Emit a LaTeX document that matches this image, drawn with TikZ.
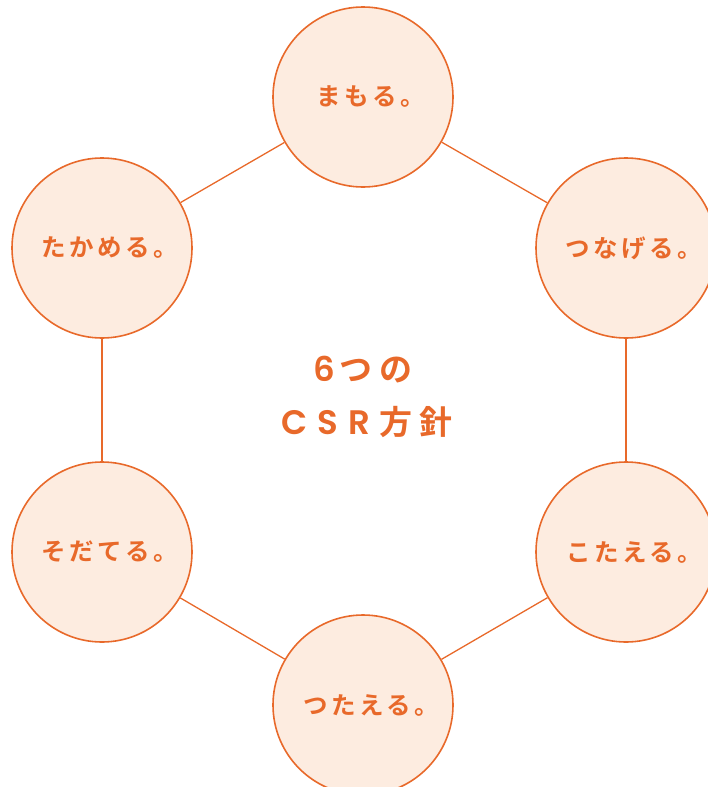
\documentclass[tikz,border=0pt]{standalone}
\usepackage{fontspec}
\newfontfamily\jpfont[LetterSpace=14]{Noto Sans CJK JP Bold}
\newfontfamily\jptitle{Noto Sans CJK JP Bold}
\newfontfamily\latintitle{Poppins SemiBold}
\definecolor{csrorange}{HTML}{E8692A}
\definecolor{csrfill}{HTML}{FDECE0}
\begin{document}
\begin{tikzpicture}[x=1pt,y=-1pt,
  policy/.style={circle, draw=csrorange, fill=csrfill, line width=1.6pt,
    minimum size=180pt, inner sep=0pt, text=csrorange, font=\jpfont\fontsize{24.5}{28}\selectfont},
  link/.style={draw=csrorange, line width=1.3pt},
  titletext/.style={text=csrorange, inner sep=0pt, anchor=base}]
\useasboundingbox (0,0) rectangle (708,787);
\clip (0,0) rectangle (708,787);
\node[policy] (mamoru) at (363,97) {\hspace{16pt}まもる。};
\node[policy] (tsunageru) at (626,248) {\hspace{16pt}つなげる。};
\node[policy] (kotaeru) at (626,552) {\hspace{16pt}こたえる。};
\node[policy] (tsutaeru) at (363,705) {\hspace{16pt}つたえる。};
\node[policy] (sodateru) at (102,552) {\hspace{16pt}そだてる。};
\node[policy] (takameru) at (102,248) {\hspace{16pt}たかめる。};
\draw[link] (mamoru) -- (tsunageru);
\draw[link] (tsunageru) -- (kotaeru);
\draw[link] (kotaeru) -- (tsutaeru);
\draw[link] (tsutaeru) -- (sodateru);
\draw[link] (sodateru) -- (takameru);
\draw[link] (takameru) -- (mamoru);
\node[titletext] (title1) at (363,381) {{\latintitle\fontsize{34}{40}\selectfont 6}\hspace{5pt}{\jptitle\fontsize{33}{40}\selectfont つ\hspace{7pt}の}};
\node[titletext] (title2) at (367,434) {{\latintitle\fontsize{34}{40}\selectfont C\hspace{10pt}S\hspace{10pt}R}\hspace{10pt}{\jptitle\fontsize{33}{40}\selectfont 方\hspace{7pt}針}};
\end{tikzpicture}
\end{document}
